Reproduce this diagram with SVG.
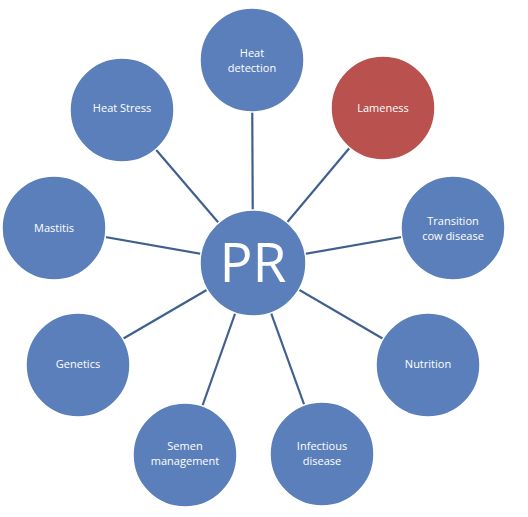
<svg xmlns="http://www.w3.org/2000/svg" width="528" height="517" viewBox="0 0 528 517">
<style>
.n{fill:#5b7fba;stroke:#ffffff;stroke-width:1.5}
.r{fill:#b9514e;stroke:#ffffff;stroke-width:1.5}
.t{font-family:"Open Sans","Liberation Sans",sans-serif;font-size:11px;fill:#ffffff;text-anchor:middle}
.p{font-family:"Open Sans","Liberation Sans",sans-serif;font-size:55px;fill:#ffffff;text-anchor:middle}
.c line{stroke:#3f5f8e;stroke-width:2.2}
</style>
<rect width="528" height="517" fill="#ffffff"/>
<g id="connectors" class="c">
<line x1="253" y1="263" x2="252" y2="60"/>
<line x1="253" y1="263" x2="383" y2="108"/>
<line x1="253" y1="263" x2="453" y2="228"/>
<line x1="253" y1="263" x2="428" y2="365"/>
<line x1="253" y1="263" x2="322" y2="454"/>
<line x1="253" y1="263" x2="185" y2="455"/>
<line x1="253" y1="263" x2="78" y2="365"/>
<line x1="253" y1="263" x2="54" y2="228"/>
<line x1="253" y1="263" x2="122" y2="110"/>
</g>
<g id="heat-detection"><circle class="n" cx="252" cy="60" r="52"/><text class="t" x="252" y="57">Heat</text><text class="t" x="252" y="72">detection</text></g>
<g id="lameness"><circle class="r" cx="383" cy="108" r="52"/><text class="t" x="383" y="112">Lameness</text></g>
<g id="transition"><circle class="n" cx="453" cy="228" r="52"/><text class="t" x="453" y="225">Transition</text><text class="t" x="453" y="240">cow disease</text></g>
<g id="nutrition"><circle class="n" cx="428" cy="365" r="52"/><text class="t" x="428" y="368">Nutrition</text></g>
<g id="infectious"><circle class="n" cx="322" cy="454" r="52"/><text class="t" x="322" y="450">Infectious</text><text class="t" x="322" y="465">disease</text></g>
<g id="semen"><circle class="n" cx="185" cy="455" r="52"/><text class="t" x="185" y="450">Semen</text><text class="t" x="185" y="465">management</text></g>
<g id="genetics"><circle class="n" cx="78" cy="365" r="52"/><text class="t" x="78" y="368">Genetics</text></g>
<g id="mastitis"><circle class="n" cx="54" cy="228" r="52"/><text class="t" x="54" y="232">Mastitis</text></g>
<g id="heat-stress"><circle class="n" cx="122" cy="110" r="52"/><text class="t" x="122" y="112">Heat Stress</text></g>
<g id="pr"><circle class="n" cx="253" cy="263" r="53"/><text class="p" x="253" y="282">PR</text></g>
</svg>
